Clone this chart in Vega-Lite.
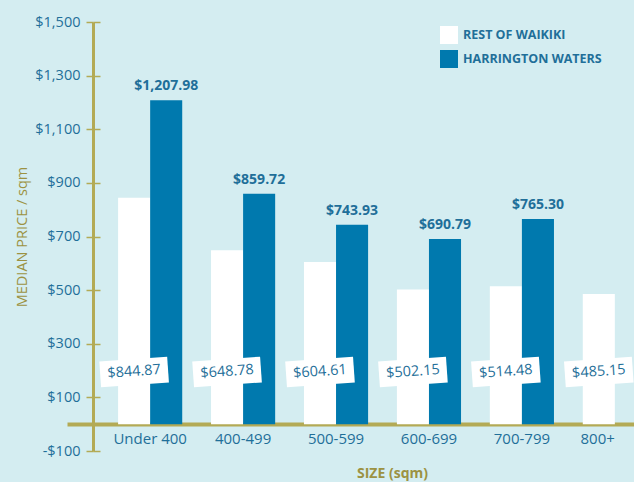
{
  "$schema": "https://vega.github.io/schema/vega-lite/v6.json",
  "width": 541,
  "height": 429,
  "autosize": {"type": "none"},
  "padding": {"left": 93, "top": 22, "right": 0, "bottom": 31},
  "background": "#d4edf1",
  "config": {
    "view": {"stroke": null},
    "font": "Open Sans"
  },
  "resolve": {"axis": {"y": "independent"}},
  "data": {
    "values": [
      {"size": "Under 400", "series": "REST OF WAIKIKI", "price": 844.87},
      {"size": "Under 400", "series": "HARRINGTON WATERS", "price": 1207.98},
      {"size": "400-499", "series": "REST OF WAIKIKI", "price": 648.78},
      {"size": "400-499", "series": "HARRINGTON WATERS", "price": 859.72},
      {"size": "500-599", "series": "REST OF WAIKIKI", "price": 604.61},
      {"size": "500-599", "series": "HARRINGTON WATERS", "price": 743.93},
      {"size": "600-699", "series": "REST OF WAIKIKI", "price": 502.15},
      {"size": "600-699", "series": "HARRINGTON WATERS", "price": 690.79},
      {"size": "700-799", "series": "REST OF WAIKIKI", "price": 514.48},
      {"size": "700-799", "series": "HARRINGTON WATERS", "price": 765.30},
      {"size": "800+", "series": "REST OF WAIKIKI", "price": 485.15}
    ]
  },
  "encoding": {
    "x": {
      "field": "size",
      "type": "nominal",
      "sort": ["Under 400", "400-499", "500-599", "600-699", "700-799", "800+"],
      "scale": {"range": [0, 579], "paddingInner": 0.31, "paddingOuter": 0.27},
      "axis": {
        "orient": "bottom",
        "offset": -27,
        "labelAngle": 0,
        "labelAlign": {"condition": {"test": "datum.value == '800+'", "value": "right"}, "value": "center"},
        "domainColor": "#b3aa55",
        "domainWidth": 4,
        "ticks": false,
        "labelFontSize": 15,
        "labelColor": "#1f6f99",
        "labelPadding": 7,
        "title": "SIZE (sqm)",
        "titleColor": "#9c9242",
        "titleFontSize": 14,
        "titleFontWeight": "bold",
        "titlePadding": 20,
        "titleX": 299
      }
    },
    "xOffset": {
      "field": "series",
      "type": "nominal",
      "sort": ["REST OF WAIKIKI", "HARRINGTON WATERS"],
      "scale": {"paddingInner": 0, "paddingOuter": 0}
    }
  },
  "layer": [
    {
      "mark": {"type": "bar"},
      "encoding": {
        "y": {
          "field": "price",
          "type": "quantitative",
          "scale": {"domain": [-100, 1500], "nice": false, "zero": false},
          "axis": {
            "orient": "left",
            "values": [-100, 0, 100, 300, 500, 700, 900, 1100, 1300, 1500],
            "labelExpr": "datum.value == 0 ? '' : datum.value < 0 ? '-$' + format(-datum.value, ',') : '$' + format(datum.value, ',')",
            "grid": false,
            "domainColor": "#b3aa55",
            "domainWidth": 3,
            "tickColor": "#b3aa55",
            "tickWidth": {"condition": {"test": "datum.value == 0", "value": 4}, "value": 1.5},
            "tickSize": {"condition": {"test": "datum.value == 0", "value": 26}, "value": 7},
            "labelFontSize": 14.5,
            "labelColor": "#1f6f99",
            "labelPadding": 6,
            "title": "MEDIAN PRICE / sqm",
            "titleColor": "#9c9242",
            "titleFontSize": 14.5,
            "titleFontWeight": "normal",
            "titlePadding": 5
          }
        },
        "color": {
          "field": "series",
          "type": "nominal",
          "sort": ["REST OF WAIKIKI", "HARRINGTON WATERS"],
          "scale": {"domain": ["REST OF WAIKIKI", "HARRINGTON WATERS"], "range": ["#ffffff", "#0079ae"]},
          "legend": {
            "title": null,
            "orient": "none",
            "legendX": 347,
            "legendY": 4,
            "padding": 0,
            "symbolType": "square",
            "symbolSize": 324,
            "symbolStrokeWidth": 0,
            "symbolOpacity": 1,
            "rowPadding": 6,
            "labelOffset": 5,
            "labelFontSize": 12.5,
            "labelFontWeight": "bold",
            "labelColor": "#1f6f99"
          }
        }
      }
    },
    {
      "transform": [{"filter": "datum.series == 'HARRINGTON WATERS'"}],
      "mark": {"type": "text", "baseline": "bottom", "dy": -7, "fontSize": 14, "fontWeight": "bold", "color": "#1f6f99"},
      "encoding": {
        "y": {
          "field": "price",
          "type": "quantitative",
          "axis": {
            "orient": "left",
            "offset": -7,
            "values": [-100, 100, 300, 500, 700, 900, 1100, 1300, 1500],
            "labels": false,
            "domain": false,
            "grid": false,
            "title": null,
            "tickColor": "#b3aa55",
            "tickWidth": 1.5,
            "tickSize": 7
          }
        },
        "text": {"field": "price", "type": "quantitative", "format": "$,.2f"}
      }
    },
    {
      "transform": [{"filter": "datum.series == 'REST OF WAIKIKI'"}],
      "mark": {"type": "point", "shape": "M-1,-0.38L1,-0.38L1,0.38L-1,0.38Z", "size": 4624, "angle": 356, "filled": true, "color": "#ffffff", "opacity": 1, "strokeWidth": 0},
      "encoding": {
        "y": {"datum": 195, "axis": null}
      }
    },
    {
      "transform": [{"filter": "datum.series == 'REST OF WAIKIKI'"}],
      "mark": {"type": "text", "baseline": "middle", "angle": 356, "fontSize": 14.5, "color": "#1f6f99"},
      "encoding": {
        "y": {"datum": 195, "axis": null},
        "text": {"field": "price", "type": "quantitative", "format": "$,.2f"}
      }
    }
  ]
}
